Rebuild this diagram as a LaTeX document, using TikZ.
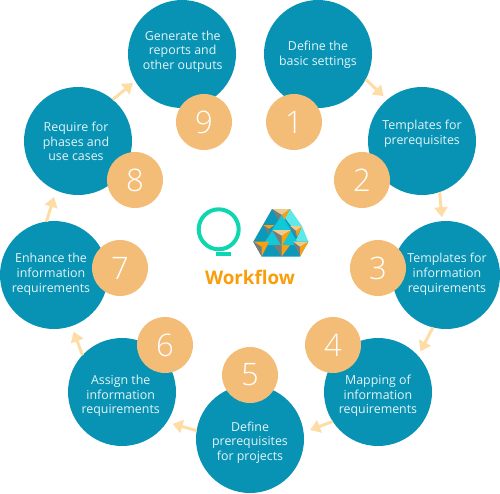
\documentclass[tikz,border=0pt]{standalone}
\usepackage{fontspec}
\setmainfont{Open Sans}
\newfontfamily\numfont{Open Sans Light}
\usetikzlibrary{arrows.meta}
\definecolor{teal1}{HTML}{0893B5}
\definecolor{peach}{HTML}{F3BD78}
\definecolor{arrowc}{HTML}{FDDCA6}
\definecolor{ringc}{HTML}{0FD6B0}
\definecolor{wf}{HTML}{F99D0B}
\definecolor{lblc}{HTML}{E4F4F8}
\definecolor{hexbase}{HTML}{0C98B8}
\definecolor{hexcy}{HTML}{10C8D8}
\definecolor{hexlt}{HTML}{5FE8E8}
\definecolor{hexgr}{HTML}{7A7A78}
\definecolor{hexor}{HTML}{FA9F12}
\definecolor{hextan}{HTML}{EBCB8E}
\tikzset{
  stage/.style={circle,fill=teal1,minimum size=108pt,inner sep=0pt,outer sep=0pt},
  lbl/.style={text=lblc,align=center,font=\fontsize{12.4}{14.6}\selectfont,inner sep=0pt},
  num/.style={circle,fill=peach,minimum size=56pt,inner sep=0pt,outer sep=0pt,text=white,font=\numfont\fontsize{31}{31}\selectfont},
  conn/.style={draw=arrowc,line width=3pt,-{Triangle[length=10pt,width=13pt]}},
}
\newcommand{\pyr}[6]{% a b c centre, top colour, left colour, right colour
  \fill[#5] #1 -- #2 -- #4 -- cycle;
  \fill[hexgr] #1 -- #3 -- #4 -- cycle;
  \fill[#6] #2 -- #3 -- #4 -- cycle;}
\begin{document}
\begin{tikzpicture}[x=1pt,y=-1pt]
\useasboundingbox (0,0) rectangle (500,493);
\node[stage,label={[lbl,name=t1,yshift=-0.5pt]center:Define the\\basic settings}] (c1) at (318,54) {};
\node[stage,label={[lbl,name=t2,yshift=7pt]center:Templates for\\prerequisites}] (c2) at (422,141) {};
\node[stage,label={[lbl,name=t3,yshift=0.8pt,xshift=1pt]center:Templates for\\information\\requirements}] (c3) at (446,275) {};
\node[stage,label={[lbl,name=t4,yshift=-3.8pt]center:Mapping of\\information\\requirements}] (c4) at (378,392) {};
\node[stage,label={[lbl,name=t5,yshift=-3.5pt]center:Define\\prerequisites\\for projects}] (c5) at (250,439) {};
\node[stage,label={[lbl,name=t6,yshift=-3.8pt,xshift=-1.3pt]center:Assign the\\information\\requirements}] (c6) at (122,392) {};
\node[stage,label={[lbl,name=t7,yshift=0.8pt,xshift=-3pt]center:Enhance the\\information\\requirements}] (c7) at (54,275) {};
\node[stage,label={[lbl,name=t8,yshift=-0.5pt,xshift=-2pt]center:Require for\\phases and\\use cases}] (c8) at (78,141) {};
\node[stage,label={[lbl,name=t9,yshift=2.5pt,xshift=.7pt]center:Generate the\\reports and\\other outputs}] (c9) at (182,54) {};
\node[num] (n1) at (294,122) {1};
\node[num] (n2) at (362,180) {2};
\node[num] (n3) at (378,268) {3};
\node[num] (n4) at (333,345) {4};
\node[num] (n5) at (250,375) {5};
\node[num] (n6) at (165,345) {6};
\node[num] (n7) at (120,268) {7};
\node[num] (n8) at (135,180) {8};
\node[num] (n9) at (204,122) {9};
\draw[conn,shorten >=5pt] (c1.-28) -- (c2.130);
\draw[conn,shorten >=4pt] (c2.-71) -- (c3.94);
\draw[conn,shorten >=5pt] (c3.256) -- (c4.42);
\draw[conn,shorten >=7pt] (c4.213) -- (c5.7.5);
\draw[conn,shorten >=6pt] (c5.171.6) -- (c6.-34);
\draw[conn,shorten >=6pt] (c6.137) -- (c7.-71.6);
\draw[conn,shorten >=7pt] (c7.98) -- (c8.246);
\draw[conn,shorten >=3pt] (c8.50) -- (c9.210.6);
% ring logo
\draw[ringc,line width=4pt] (218.7,229.3) circle (20pt);
\fill[ringc] (215.7,252) rectangle (231,256);
% hex logo
\fill[hexbase] (272,209) -- (290,209) -- (308.3,241.7) -- (300,256.5) -- (261.7,256.5) -- (253.3,241.7) -- cycle;
\fill[hexlt] (290,209) -- (302,226) -- (291,226) -- (285,218) -- cycle;
\fill[hexlt] (302,226) -- (308.3,241.7) -- (295,241.7) -- (298,236) -- cycle;
\pyr{(272,209)}{(290,209)}{(281.7,225)}{(281.7,215)}{hextan}{hexor}
\pyr{(263,225)}{(275,225)}{(270,237)}{(269,229)}{hexor}{hexbase}
\pyr{(290,226)}{(302,226)}{(297,237)}{(296,231)}{hextan}{hexor}
\fill[hexcy] (281.7,215) -- (272,230) -- (291,230) -- cycle;
\fill[hexcy] (273,229.5) -- (263,245) -- (282,245) -- cycle;
\fill[hexcy] (290,229.5) -- (281.7,245) -- (299,245) -- cycle;
\pyr{(272,230)}{(291,230)}{(281.7,246)}{(281.7,236)}{hextan}{hexor}
\pyr{(253.3,241.7)}{(269,241.7)}{(261.7,256.5)}{(261.7,247)}{hexor}{hexor}
\pyr{(273.3,245)}{(290,245)}{(281.7,256.5)}{(281.7,245)}{hexor}{hexor}
\pyr{(293,241.7)}{(308.3,241.7)}{(300,256.5)}{(300,247)}{hextan}{hexor}
\node[font=\bfseries\fontsize{18.8}{18.8}\selectfont,text=wf,inner sep=0pt] (wfl) at (250,277) {Workflow};
\end{tikzpicture}
\end{document}
